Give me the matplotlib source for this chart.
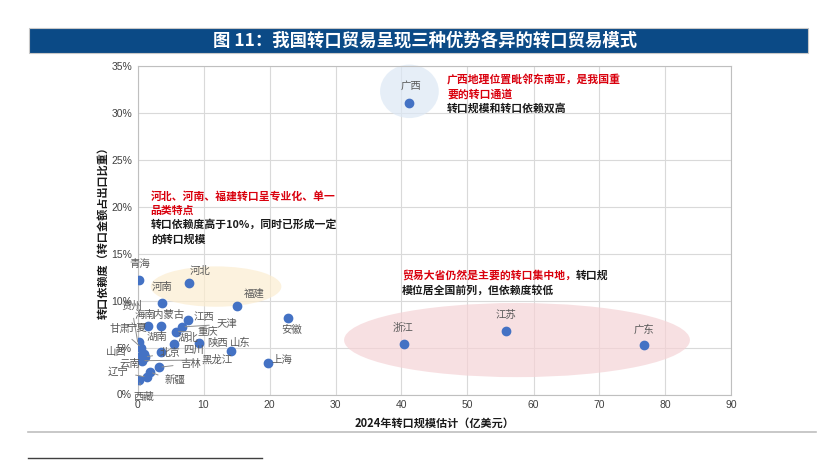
import matplotlib as mpl
mpl.use('Agg')
import matplotlib.pyplot as plt
from matplotlib.patches import Ellipse, Rectangle
from matplotlib.lines import Line2D
from matplotlib.ticker import FuncFormatter

plt.rcParams['font.family'] = ['Noto Sans CJK SC', 'DejaVu Sans']

# provinces: 2024 re-export scale (100M USD) and re-export dependency (% of exports)
provinces = ['广东', '江苏', '浙江', '广西', '上海', '安徽', '福建', '山东', '河北', '河南',
             '青海', '江西', '天津', '重庆', '湖北', '陕西', '四川', '内蒙古', '海南', '吉林',
             '新疆', '辽宁', '西藏', '贵州', '甘肃', '湖南', '宁夏', '山西', '云南', '北京', '黑龙江']
scale = [76.8, 55.8, 40.4, 41.2, 19.7, 22.8, 15.1, 14.1, 7.8, 3.7,
         0.3, 7.7, 6.8, 5.8, 5.5, 9.3, 3.5, 3.6, 1.6, 3.3,
         1.9, 1.4, 0.2, 0.1, 0.6, 0.3, 1.0, 0.2, 0.5, 1.1, 0.7]
dependency = [5.3, 6.75, 5.4, 31.1, 3.4, 8.1, 9.4, 4.65, 11.9, 9.8,
              12.2, 7.9, 7.2, 6.7, 5.4, 5.5, 4.5, 7.35, 7.3, 2.9,
              2.4, 1.85, 1.5, 5.3, 5.0, 5.6, 4.3, 3.8, 4.1, 4.0, 3.6]

# where each province name is written (data units) and whether it gets a leader line
label_pos = [(76.8, 6.9), (55.8, 8.5), (40.3, 7.1), (41.4, 32.9), (21.8, 3.7), (23.4, 6.9),
             (17.7, 10.7), (15.5, 5.5), (9.4, 13.2), (3.7, 11.5), (0.3, 13.9), (10.0, 8.3),
             (13.5, 7.5), (10.7, 6.7), (7.7, 6.0), (12.2, 5.5), (8.5, 4.7), (4.7, 8.5),
             (1.1, 8.5), (8.0, 3.3), (5.7, 1.4), (-2.9, 2.4), (1.0, -0.25), (-0.9, 9.4),
             (-2.7, 7.0), (2.9, 6.1), (-0.1, 7.1), (-3.2, 4.55), (-1.1, 3.3), (4.9, 4.4),
             (12.0, 3.7)]
leader = ['天津', '重庆', '吉林', '新疆', '辽宁', '西藏', '贵州', '甘肃', '北京', '黑龙江']

fig = plt.figure(figsize=(8.2, 4.7), dpi=100)

# title bar
fig.patches.append(Rectangle((29.3 / 820, 1 - 53.3 / 470), (808 - 29.3) / 820, 25 / 470,
                             transform=fig.transFigure, facecolor='#0b4a86',
                             edgecolor='#c8c8c8', lw=0.8))
fig.text(425 / 820, 1 - 41 / 470, '图 11：我国转口贸易呈现三种优势各异的转口贸易模式',
         color='white', fontsize=12.5, fontweight='bold', ha='center', va='center')

ax = fig.add_axes([137.5 / 820, 1 - 394.5 / 470, 594 / 820, 328.5 / 470])
ax.set_xlim(0, 90)
ax.set_ylim(0, 35)
ax.set_xticks(range(0, 91, 10))
ax.set_yticks(range(0, 36, 5))
ax.yaxis.set_major_formatter(FuncFormatter(lambda v, p: '%d%%' % v))
ax.grid(True, color='#d9d9d9', lw=0.8)
ax.set_axisbelow(True)
for s in ax.spines.values():
    s.set_color('#bfbfbf')
ax.tick_params(length=0, labelsize=7.5, labelcolor='#404040', pad=4)
for t in ax.get_xticklabels() + ax.get_yticklabels():
    t.set_family(['Liberation Sans', 'DejaVu Sans'])

# highlight zones
ax.add_patch(Ellipse((11.9, 11.5), 19.8, 4.3, facecolor='#fcedd0', alpha=0.7, lw=0, zorder=1))
ax.add_patch(Ellipse((41.2, 32.3), 8.9, 5.7, facecolor='#dce8f5', alpha=0.7, lw=0, zorder=1,
                     clip_on=False))
ax.add_patch(Ellipse((57.5, 5.8), 52.4, 7.9, facecolor='#f5d3d6', alpha=0.7, lw=0, zorder=1))

ax.scatter(scale, dependency, s=36, color='#4472c4', zorder=3)

for name, x, y, (lx, ly) in zip(provinces, scale, dependency, label_pos):
    if name in leader:
        ax.annotate(name, xy=(x, y), xytext=(lx, ly), fontsize=7.5, color='#595959',
                    ha='center', va='center', annotation_clip=False, zorder=4,
                    arrowprops=dict(arrowstyle='-', color='#8c8c8c', lw=0.7,
                                    shrinkA=3, shrinkB=2))
    else:
        ax.text(lx, ly, name, fontsize=7.5, color='#595959', ha='center', va='center',
                clip_on=False, zorder=4)

red = '#d9000d'
ink = '#1a1a1a'

# commentary blocks
ax.text(2.0, 21.15, '河北、河南、福建转口呈专业化、单一', color=red, fontsize=7.8, fontweight='bold', va='center')
ax.text(2.0, 19.6, '品类特点', color=red, fontsize=7.8, fontweight='bold', va='center')
ax.text(2.0, 18.1, '转口依赖度高于10%，同时已形成一定', color=ink, fontsize=7.8, fontweight='bold', va='center')
ax.text(2.0, 16.5, '的转口规模', color=ink, fontsize=7.8, fontweight='bold', va='center')

ax.text(46.9, 33.5, '广西地理位置毗邻东南亚，是我国重', color=red, fontsize=7.8, fontweight='bold', va='center')
ax.text(46.9, 32.0, '要的转口通道', color=red, fontsize=7.8, fontweight='bold', va='center')
ax.text(46.9, 30.5, '转口规模和转口依赖双高', color=ink, fontsize=7.8, fontweight='bold', va='center')

t1 = ax.text(40.1, 12.7, '贸易大省仍然是主要的转口集中地，', color=red, fontsize=7.8, fontweight='bold', va='center')
ax.annotate('转口规', xy=(1, 0.5), xycoords=t1, color=ink, fontsize=7.8, fontweight='bold',
            va='center', ha='left')
ax.text(40.1, 11.1, '模位居全国前列，但依赖度较低', color=ink, fontsize=7.8, fontweight='bold', va='center')

ax.set_xlabel('2024年转口规模估计（亿美元）', fontsize=8, fontweight='bold', color=ink, labelpad=5)
ax.set_ylabel('转口依赖度（转口金额占出口比重）', fontsize=8, fontweight='bold', color=ink, labelpad=1)

# rules under the chart
fig.lines.append(Line2D([28 / 820, 816 / 820], [1 - 432.3 / 470] * 2, transform=fig.transFigure,
                        color='#bfbfbf', lw=1.2))
fig.lines.append(Line2D([28 / 820, 262 / 820], [1 - 458.3 / 470] * 2, transform=fig.transFigure,
                        color='#404040', lw=1.0))

plt.savefig('out.png', dpi=100)
